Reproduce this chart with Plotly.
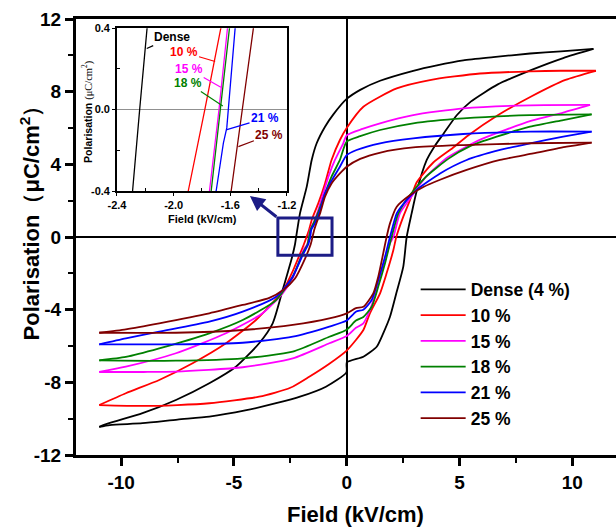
import plotly.graph_objects as go

# ---------------- data (E in kV/cm, P in uC/cm2) ----------------
series_names = ["Dense (4 %)", "10 %", "15 %", "18 %", "21 %", "25 %"]
series_colors = ["#000000", "#ff0000", "#ff00ff", "#008000", "#0000ff", "#800000"]

dense_up_E = [10.94, 9.5, 8.13, 6.5, 5.17, 4.0, 2.95, 1.48, 0.6, 0.0, -0.59, -0.96, -1.33, -1.55, -1.77, -2.07, -2.19, -2.24, -2.29, -2.44, -2.6, -2.84, -3.28, -3.88, -4.91, -6.09, -7.57, -9.05, -10.53, -10.97]
dense_up_P = [10.35, 10.22, 10.1, 9.9, 9.72, 9.45, 9.15, 8.6, 8.1, 7.6, 6.75, 6.07, 5.16, 4.24, 2.77, 1.3, 0.4, 0.0, -0.4, -1.2, -1.9, -2.92, -4.75, -5.85, -7.14, -8.05, -8.97, -9.7, -10.25, -10.45]
dense_lo_E = [-10.97, -10.5, -9.05, -7.5, -6.09, -4.5, -3.13, -2.07, -0.92, -0.01, 0.01, 0.74, 1.33, 1.62, 1.92, 2.2, 2.51, 2.66, 2.88, 3.1, 3.55, 3.9, 4.3, 4.88, 5.5, 6.7, 8.2, 9.6, 10.94]
dense_lo_P = [-10.45, -10.35, -10.25, -10.05, -9.89, -9.55, -9.15, -8.79, -8.24, -7.45, -6.9, -6.59, -6.04, -5.3, -4.39, -3.1, -1.63, 0.0, 1.3, 2.5, 4.24, 5.0, 5.7, 6.7, 7.45, 8.4, 9.2, 9.85, 10.35]

red_up_E = [11.05, 9.5, 8.13, 5.91, 3.69, 2.22, 0.74, 0.0, -0.3, -0.67, -0.96, -1.26, -1.55, -1.667, -1.78, -1.897, -2.0, -2.37, -2.81, -3.13, -4.02, -5.35, -6.83, -8.31, -9.79, -10.97]
red_up_P = [9.15, 9.15, 9.12, 9.0, 8.64, 8.18, 7.17, 6.0, 5.34, 4.24, 2.95, 1.85, 0.94, 0.4, 0.0, -0.4, -0.72, -1.82, -2.92, -3.4, -4.57, -5.85, -6.95, -7.87, -8.6, -9.25]
red_lo_E = [-10.97, -9.05, -7.5, -6.09, -3.88, -2.5, -1.66, -0.8, 0.0, 0.41, 0.74, 1.03, 1.48, 1.77, 2.07, 2.2, 2.51, 2.81, 3.1, 3.84, 4.7, 5.4, 6.7, 8.2, 9.7, 11.05]
red_lo_P = [-9.25, -9.3, -9.25, -9.15, -8.79, -8.3, -7.69, -7.0, -6.25, -5.67, -5.12, -4.2, -3.1, -2.0, -0.72, 0.0, 1.12, 2.04, 3.0, 4.1, 4.9, 5.6, 6.7, 7.75, 8.65, 9.15]

mag_up_E = [10.79, 8.13, 5.17, 2.95, 1.48, 0.7, 0.0, -0.15, -0.52, -0.81, -1.04, -1.26, -1.45, -1.62, -1.68, -1.747, -1.92, -2.37, -2.84, -3.73, -5.35, -7.57, -9.79, -10.97]
mag_up_P = [7.27, 7.25, 7.08, 6.71, 6.26, 5.95, 5.6, 5.16, 4.24, 3.32, 2.4, 1.49, 0.85, 0.4, 0.0, -0.4, -0.72, -2.2, -3.1, -4.2, -5.3, -6.4, -7.14, -7.43]
mag_lo_E = [-10.97, -9.0, -7.57, -4.61, -2.39, -0.77, 0.0, 0.41, 0.74, 1.03, 1.33, 1.62, 1.92, 2.07, 2.36, 2.8, 3.5, 4.5, 6.0, 8.2, 9.6, 10.79]
mag_lo_P = [-7.43, -7.43, -7.41, -7.17, -6.68, -5.85, -5.45, -5.0, -4.75, -4.02, -2.92, -1.63, -0.35, 0.0, 1.3, 2.1, 3.3, 4.4, 5.4, 6.4, 6.85, 7.27]

grn_up_E = [10.86, 8.13, 5.17, 2.95, 1.48, 0.6, 0.0, -0.3, -0.67, -0.96, -1.22, -1.45, -1.606, -1.67, -1.735, -1.95, -2.4, -3.13, -4.61, -6.09, -8.31, -9.79, -10.97]
grn_up_P = [6.75, 6.71, 6.53, 6.26, 5.89, 5.55, 5.25, 4.24, 3.32, 2.4, 1.49, 0.8, 0.4, 0.0, -0.4, -0.9, -2.2, -3.47, -4.57, -5.3, -6.13, -6.6, -6.79]
grn_lo_E = [-10.97, -7.57, -4.61, -2.39, -0.77, 0.0, 0.41, 0.74, 1.11, 1.4, 1.7, 1.99, 2.29, 2.8, 3.5, 4.5, 5.47, 6.65, 8.13, 9.6, 10.86]
grn_lo_P = [-6.79, -6.81, -6.68, -6.31, -5.49, -5.1, -4.6, -4.4, -3.84, -2.73, -1.45, 0.0, 1.3, 2.3, 3.3, 4.3, 5.0, 5.52, 6.07, 6.44, 6.75]

blu_up_E = [10.86, 8.13, 5.17, 2.95, 1.48, 0.44, 0.0, -0.3, -0.67, -0.96, -1.18, -1.41, -1.566, -1.625, -1.649, -1.70, -1.95, -2.4, -3.13, -4.61, -6.09, -8.31, -9.79, -10.97]
blu_up_P = [5.8, 5.8, 5.67, 5.43, 5.16, 4.79, 4.51, 3.87, 3.1, 2.4, 1.49, 0.75, 0.4, -0.09, -0.165, -0.4, -1.0, -2.2, -3.29, -4.11, -4.66, -5.21, -5.58, -5.91]
blu_lo_E = [-10.97, -7.57, -4.61, -2.39, -0.77, 0.0, 0.41, 0.74, 1.11, 1.4, 1.7, 1.92, 2.22, 2.5, 3.1, 4.14, 5.32, 6.8, 8.13, 9.6, 10.86]
blu_lo_P = [-5.91, -5.91, -5.82, -5.49, -4.93, -4.6, -4.11, -4.0, -3.47, -2.37, -1.08, 0.0, 1.3, 1.8, 2.59, 3.5, 4.24, 4.79, 5.16, 5.52, 5.8]

brn_up_E = [10.86, 8.13, 5.17, 2.95, 1.5, 0.6, 0.0, -0.3, -0.67, -0.96, -1.18, -1.33, -1.437, -1.515, -1.594, -1.85, -2.3, -2.8, -3.43, -4.61, -6.09, -8.31, -9.79, -10.97]
brn_up_P = [5.2, 5.16, 5.06, 4.93, 4.65, 4.3, 3.87, 3.5, 2.95, 2.22, 1.3, 0.8, 0.4, 0.0, -0.4, -1.2, -2.3, -2.9, -3.35, -3.74, -4.2, -4.75, -5.08, -5.27]
brn_lo_E = [-10.97, -7.57, -4.61, -2.39, -0.77, 0.0, 0.41, 0.74, 1.18, 1.4, 1.62, 1.77, 1.92, 2.22, 2.8, 3.4, 4.14, 5.32, 6.8, 8.27, 9.75, 10.86]
brn_lo_P = [-5.27, -5.27, -5.12, -4.84, -4.48, -4.2, -3.92, -3.84, -3.1, -2.18, -0.9, 0.0, 0.75, 1.67, 2.3, 2.75, 3.15, 3.69, 4.24, 4.6, 4.97, 5.2]

main_xticks = [-10, -5, 0, 5, 10]
main_xticktext = ["-10", "-5", "0", "5", "10"]
main_yticks = [-12, -8, -4, 0, 4, 8, 12]
main_yticktext = ["-12", "-8", "-4", "0", "4", "8", "12"]
inset_xticks = [-2.4, -2.0, -1.6, -1.2]
inset_xticktext = ["-2.4", "-2.0", "-1.6", "-1.2"]
inset_yticks = [-0.4, 0.0, 0.4]
inset_yticktext = ["-0.4", "0.0", "0.4"]
inset_labels = ["Dense", "10 %", "15 %", "18 %", "21 %", "25 %"]

branches = [
    (dense_up_E, dense_up_P, dense_lo_E, dense_lo_P),
    (red_up_E, red_up_P, red_lo_E, red_lo_P),
    (mag_up_E, mag_up_P, mag_lo_E, mag_lo_P),
    (grn_up_E, grn_up_P, grn_lo_E, grn_lo_P),
    (blu_up_E, blu_up_P, blu_lo_E, blu_lo_P),
    (brn_up_E, brn_up_P, brn_lo_E, brn_lo_P),
]

FONT = "Liberation Sans, Arial, sans-serif"
NAVY = "#1c1c86"

fig = go.Figure()
for name, color, (uE, uP, lE, lP) in zip(series_names, series_colors, branches):
    # main plot: each branch separately, smoothed
    for k, (bx, by) in enumerate([(uE, uP), (lE, lP)]):
        fig.add_trace(go.Scatter(x=bx, y=by, mode="lines", name=name,
                                 legendgroup=name, showlegend=(k == 0),
                                 line=dict(color=color, width=1.8, shape="spline", smoothing=0.6),
                                 xaxis="x", yaxis="y"))
    # inset: same data, zoomed
    fig.add_trace(go.Scatter(x=uE + lE, y=uP + lP, mode="lines", showlegend=False,
                             line=dict(color=color, width=1.3),
                             xaxis="x2", yaxis="y2", hoverinfo="skip"))

axis_common = dict(showline=True, linecolor="black", showgrid=False, automargin=False,
                   ticks="outside", tickcolor="black",
                   tickfont=dict(family=FONT, size=19, color="black", weight="bold"))

fig.update_layout(
    template="none",
    width=616, height=532,
    margin=dict(l=76, r=0, t=19, b=77, autoexpand=False),
    paper_bgcolor="white", plot_bgcolor="white",
    xaxis=dict(domain=[0, 1], range=[-12, 11.94], linewidth=3, mirror=True,
               tickvals=main_xticks, ticktext=main_xticktext, ticklen=8, tickwidth=2.5,
               zeroline=True, zerolinecolor="black", zerolinewidth=1.6,
               minor=dict(tickvals=[-7.5, -2.5, 2.5, 7.5], ticklen=5, tickwidth=2,
                          ticks="outside", tickcolor="black"),
               **axis_common),
    yaxis=dict(domain=[0, 1], range=[-12, 12], linewidth=3,
               tickvals=main_yticks, ticktext=main_yticktext, ticklen=8, tickwidth=2.5,
               zeroline=True, zerolinecolor="black", zerolinewidth=1.6,
               minor=dict(tickvals=[-10, -6, -2, 2, 6, 10], ticklen=5, tickwidth=2,
                          ticks="outside", tickcolor="black"),
               **axis_common),
    xaxis2=dict(domain=[0.0759, 0.3907], anchor="y2", range=[-2.4, -1.2],
                showline=True, linecolor="black", linewidth=1.6, mirror=True, automargin=False,
                showgrid=False, zeroline=False, ticks="outside", ticklen=3, tickcolor="black",
                tickvals=inset_xticks, ticktext=inset_xticktext,
                minor=dict(tickvals=[-2.2, -1.8, -1.4], ticks="inside", ticklen=3, tickcolor="black"),
                tickfont=dict(family=FONT, size=11, color="black", weight="bold")),
    yaxis2=dict(domain=[0.6055, 0.979], anchor="x2", range=[-0.4, 0.4],
                showline=True, linecolor="black", linewidth=1.6, mirror=True, automargin=False,
                showgrid=False, zeroline=True, zerolinecolor="#909090", zerolinewidth=1,
                ticks="outside", ticklen=3, tickcolor="black",
                tickvals=inset_yticks, ticktext=inset_yticktext,
                minor=dict(tickvals=[-0.2, 0.2], ticks="inside", ticklen=3, tickcolor="black"),
                tickfont=dict(family=FONT, size=11, color="black", weight="bold")),
    legend=dict(x=0.629, y=0.421, xanchor="left", yanchor="top",
                bgcolor="rgba(0,0,0,0)", itemwidth=45, tracegroupgap=0,
                font=dict(family=FONT, size=17.5, color="black", weight="bold")),
    showlegend=True,
)

# zoom rectangle on main plot
fig.add_shape(type="rect", xref="x", yref="y", x0=-3.05, x1=-0.65, y0=-1.0, y1=1.05,
              line=dict(color=NAVY, width=3))

annotations = [
    # main axis titles
    dict(text="Field (kV/cm)", xref="paper", yref="paper", x=0.517, y=-0.1376,
         xanchor="center", yanchor="middle", showarrow=False,
         font=dict(family=FONT, size=22, color="black", weight="bold")),
    dict(text="Polarisation（μC/cm<sup>2</sup>）", xref="paper", yref="paper",
         x=-0.085, y=0.545, textangle=-90, xanchor="center", yanchor="middle",
         showarrow=False, font=dict(family=FONT, size=22, color="black", weight="bold")),
    # inset axis titles
    dict(text="Field (kV/cm)", xref="paper", yref="paper", x=0.235, y=0.541,
         xanchor="center", yanchor="middle", showarrow=False,
         font=dict(family=FONT, size=11, color="black", weight="bold")),
    dict(text="Polarisation <span style='font-family:Liberation Serif;font-weight:normal'>(μC/cm<sup>2</sup>)</span>",
         xref="paper", yref="paper",
         x=0.0204, y=0.787, textangle=-90, xanchor="center", yanchor="middle",
         showarrow=False, font=dict(family=FONT, size=10.5, color="black", weight="bold")),
    # arrow from rectangle to inset
    dict(text="", xref="x", yref="y", x=-4.29, y=2.26, axref="x", ayref="y",
         ax=-3.05, ay=1.05, showarrow=True, arrowhead=2, arrowsize=1,
         arrowwidth=3, arrowcolor=NAVY, standoff=0, startstandoff=0),
]

inset_tip = [(-2.19, 0.30), (-1.707, 0.236), (-1.667, 0.11), (-1.653, 0.018), (-1.63, -0.10), (-1.543, -0.182)]
inset_txt = [(-2.01, 0.356), (-1.93, 0.282), (-1.895, 0.199), (-1.90, 0.13), (-1.355, -0.042), (-1.324, -0.124)]
for lab, col, (tx, ty), (ax, ay) in zip(inset_labels, series_colors, inset_tip, inset_txt):
    annotations.append(dict(text=lab, xref="x2", yref="y2", x=tx, y=ty,
                            axref="x2", ayref="y2", ax=ax, ay=ay,
                            showarrow=True, arrowhead=0, arrowwidth=1.2, arrowcolor=col,
                            standoff=0, font=dict(family=FONT, size=12, color=col, weight="bold")))

fig.update_layout(annotations=annotations)

fig.write_html("out.html")
